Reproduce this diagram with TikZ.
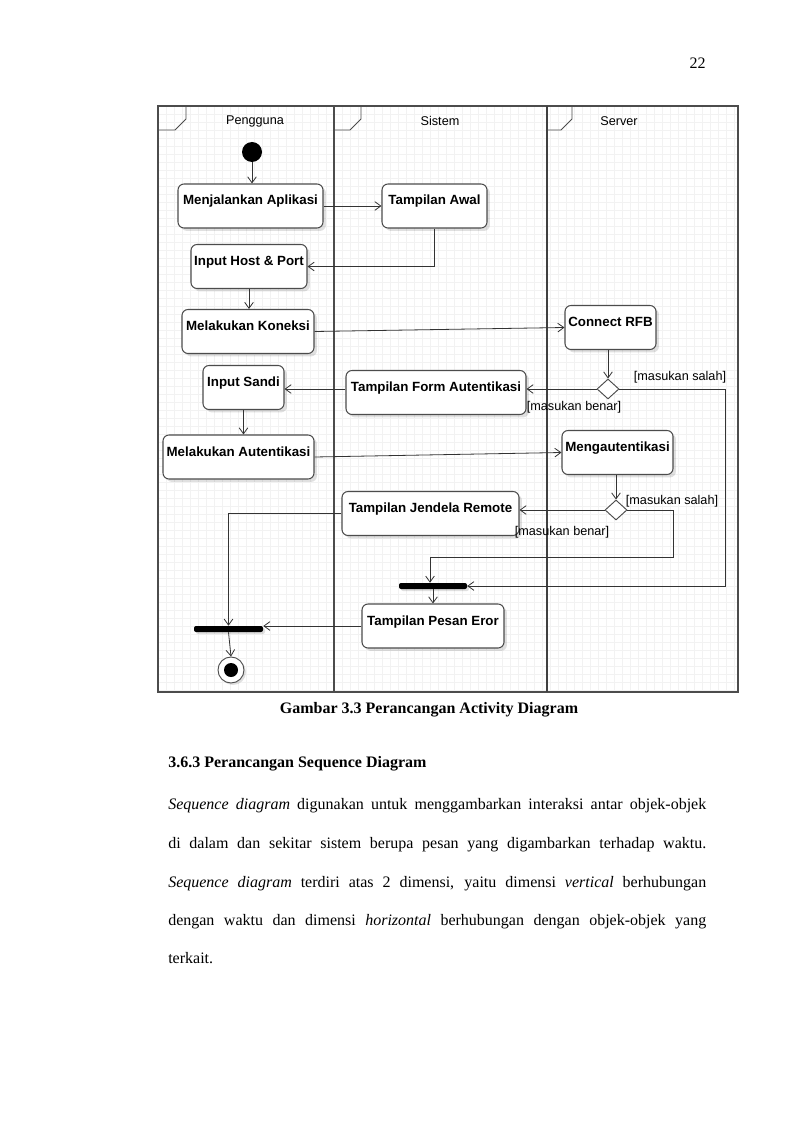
\documentclass[tikz,border=0pt]{standalone}
\usepackage{fontspec}
\setmainfont{Liberation Serif}
\newfontfamily\diagsans{Liberation Sans}
\usetikzlibrary{arrows.meta,shapes.geometric,shadows,calc}
\newcommand{\actfont}{\diagsans\fontsize{10}{12}\selectfont\bfseries}
\newcommand{\guardfont}{\diagsans\fontsize{9.5}{11}\selectfont}
\newcommand{\bodyfont}{\fontsize{12}{14}\selectfont}
\begin{document}
\begin{tikzpicture}[x=0.75pt,y=-0.75pt,
  act/.style={draw=black!70, line width=0.8pt, rounded corners=4.5pt, fill=white,
    drop shadow={shadow xshift=2.2pt, shadow yshift=-2.2pt, opacity=0.12, fill=black},
    font=\actfont, inner xsep=2pt, inner ysep=3pt, text height=12.75pt, text depth=14.25pt},
  bw/.style={minimum width=#1*0.75pt},
  flow/.style={draw=black!80, line width=0.6pt, -{Straight Barb[length=4.5pt,width=6.5pt]}},
  guard/.style={font=\guardfont, inner sep=0pt},
  lanelabel/.style={font=\guardfont, inner sep=0pt},
  bar/.style={fill=black, rounded corners=1.5pt, minimum height=4.5pt, inner sep=0pt,
    drop shadow={shadow xshift=1.5pt, shadow yshift=-1.5pt, opacity=0.12, fill=black}},
  decision/.style={diamond, draw=black!70, line width=0.7pt, fill=white, inner sep=0pt,
    minimum width=16.5pt, minimum height=15pt},
  gridline/.style={draw=black!5, line width=0.4pt},
  frameline/.style={draw=black!70, line width=0.8pt},
  bodyline/.style={font=\bodyfont, inner sep=0pt, anchor=base west}
]
\useasboundingbox (0,0) rectangle (800,1134);
\fill[white] (0,0) rectangle (800,1134);

% page number
\node[font=\bodyfont, inner sep=0pt, anchor=base east] (pagenum) at (706,69) {22};

% grid
\foreach \gx in {166,174,...,734} \draw[gridline] (\gx,106) -- (\gx,692);
\foreach \gy in {114,122,...,690} \draw[gridline] (158,\gy) -- (738,\gy);

% frame and lanes
\draw[frameline] (158,106) rectangle (738,692);
\draw[frameline] (334,106) -- (334,692);
\draw[draw=black!75, line width=1.5pt] (547,106) -- (547,692);
\draw[frameline, line width=0.6pt] (158,130) -- (175,130) -- (186,119) -- (186,106);
\draw[frameline, line width=0.6pt] (334,130) -- (350,130) -- (361,119) -- (361,106);
\draw[frameline, line width=0.6pt] (547,130) -- (561,130) -- (572,119) -- (572,106);
\node[lanelabel] (lane1) at (255,121) {Pengguna};
\node[lanelabel] (lane2) at (440,121) {Sistem};
\node[lanelabel] (lane3) at (619,121) {Server};

% nodes
\node[circle, fill=black, minimum size=15pt, inner sep=0pt] (init) at (252,152) {};
\node[act, bw=145] (menj) at (250.5,206) {Menjalankan Aplikasi};
\node[act, bw=105] (awal) at (434.5,206) {Tampilan Awal};
\node[act, bw=116] (host) at (249,266.5) {Input Host \& Port};
\node[act, bw=132] (kon) at (248,331.5) {Melakukan Koneksi};
\node[act, bw=91] (connect) at (610.5,327.5) {Connect RFB};
\node[decision] (d1) at (608,389) {};
\node[act, bw=180] (form) at (436,392.5) {Tampilan Form Autentikasi};
\node[act, bw=81] (sandi) at (243.5,387.5) {Input Sandi};
\node[act, bw=151] (autent) at (238.5,457) {Melakukan Autentikasi};
\node[act, bw=111] (meng) at (617.5,452.5) {Mengautentikasi};
\node[decision] (d2) at (616,510) {};
\node[act, bw=177] (jendela) at (430.5,513.5) {Tampilan Jendela Remote};
\node[bar, bw=68] (fork) at (433,586) {};
\node[act, bw=142] (eror) at (433,626) {Tampilan Pesan Eror};
\node[bar, bw=69] (join) at (228.5,629) {};
\node[circle, draw=black!70, line width=0.7pt, fill=white, minimum size=19.5pt, inner sep=0pt,
  drop shadow={shadow xshift=1.5pt, shadow yshift=-1.5pt, opacity=0.12, fill=black}] (final) at (231,670) {};
\fill[black] (final.center) circle (5.25pt);

\coordinate (c1) at (725,586);
\coordinate (c2) at (673,557);
\coordinate (c3) at (430,557);

% connectors
\draw[flow] (init) -- (init |- menj.north);
\draw[flow] (menj.east) -- (awal.west);
\draw[flow] (awal.south) |- (host.east);
\draw[flow] (host.south) -- (host.south |- kon.north);
\draw[flow] (kon.east) -- (connect.west);
\draw[flow] (connect.south -| d1.north) -- (d1.north);
\draw[flow] (d1.west) -- (d1.west -| form.east);
\draw[flow] (d1.east) -| (c1) -- (fork.east);
\draw[flow] (form.west |- d1.west) -- (sandi.east |- d1.west);
\draw[flow] (sandi.south) -- (sandi.south |- autent.north);
\draw[flow] (autent.east) -- (meng.west);
\draw[flow] (meng.south -| d2.north) -- (d2.north);
\draw[flow] (d2.west) -- (d2.west -| jendela.east);
\draw[flow] (d2.east) -| (c2) -- (c3) -- (c3 |- fork.north);
\draw[flow] (eror.north |- fork.south) -- (eror.north);
\draw[flow] (jendela.west) -| (join.north);
\draw[flow] (eror.west) -- (eror.west -| join.east);
\draw[flow] (join.south) -- (final.north);

% guards
\node[guard] (g1) at (680,377) {[masukan salah]};
\node[guard] (g2) at (574,407) {[masukan benar]};
\node[guard] (g3) at (672,501) {[masukan salah]};
\node[guard] (g4) at (562,532) {[masukan benar]};

% caption and text
\node[font=\bodyfont\bfseries, inner sep=0pt, anchor=base] (caption) at (429,713) {Gambar 3.3 Perancangan Activity Diagram};
\node[font=\bodyfont\bfseries, inner sep=0pt, anchor=base west] (heading) at (168,767) {3.6.3 Perancangan Sequence Diagram};
\node[bodyline] (l1) at (168,809) {\makebox[403.5pt][s]{\textit{Sequence diagram} digunakan untuk menggambarkan interaksi antar objek-objek}};
\node[bodyline] (l2) at (168,848) {\makebox[403.5pt][s]{di dalam dan sekitar sistem berupa pesan yang digambarkan terhadap waktu.}};
\node[bodyline] (l3) at (168,887) {\makebox[403.5pt][s]{\textit{Sequence diagram} terdiri atas 2 dimensi, yaitu dimensi \textit{vertical} berhubungan}};
\node[bodyline] (l4) at (168,925) {\makebox[403.5pt][s]{dengan waktu dan dimensi \textit{horizontal} berhubungan dengan objek-objek yang}};
\node[bodyline] (l5) at (168,963) {terkait.};
\end{tikzpicture}
\end{document}
